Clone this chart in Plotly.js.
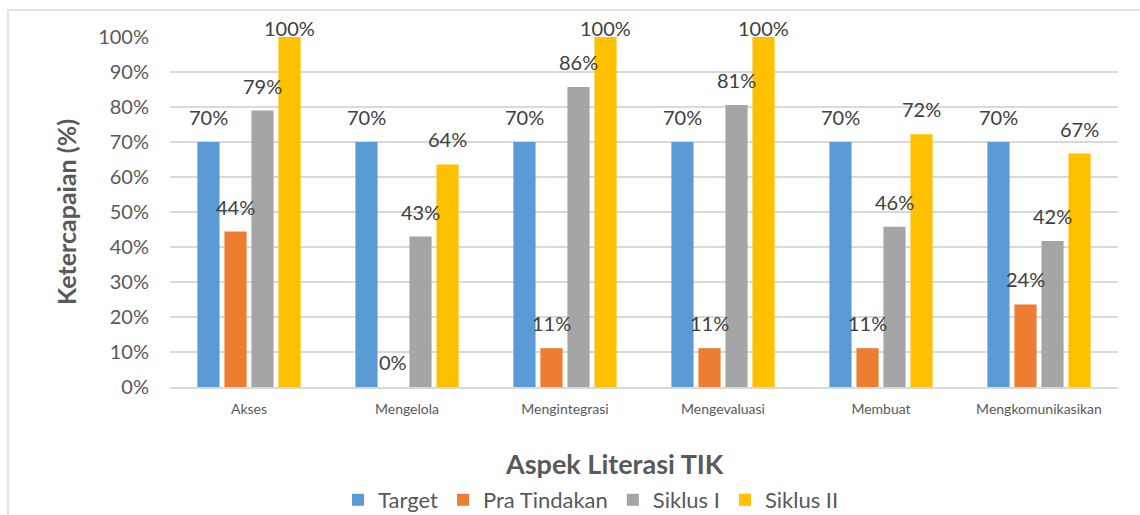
<!DOCTYPE html>
<html>
<head>
<meta charset="utf-8">
<script src="https://cdn.plot.ly/plotly-3.0.1.min.js"></script>
<style>html,body{margin:0;padding:0;background:#fff;}#chart{width:1140px;height:515px;}</style>
</head>
<body>
<div id="chart"></div>
<script>
const categories = ["Akses", "Mengelola", "Mengintegrasi", "Mengevaluasi", "Membuat", "Mengkomunikasikan"];
const seriesNames = ["Target", "Pra Tindakan", "Siklus I", "Siklus II"];
const target = [0.70, 0.70, 0.70, 0.70, 0.70, 0.70];
const praTindakan = [0.444, 0.0, 0.111, 0.111, 0.111, 0.236];
const siklus1 = [0.79, 0.43, 0.857, 0.806, 0.458, 0.417];
const siklus2 = [1.0, 0.636, 1.0, 1.0, 0.722, 0.667];
const yTickVals = [0, 0.1, 0.2, 0.3, 0.4, 0.5, 0.6, 0.7, 0.8, 0.9, 1.0];

const colors = ["#5B9BD5", "#ED7D31", "#A5A5A5", "#FFC000"];
const allSeries = [target, praTindakan, siklus1, siklus2];
const FONT = "Lato, 'Open Sans', sans-serif";

const traces = allSeries.map((vals, i) => ({
  type: "bar",
  name: seriesNames[i],
  x: categories,
  y: vals,
  marker: {color: colors[i]},
  hoverinfo: "none"
}));

// data labels
const plotW = 948, plotH = 350, nCat = categories.length, bargap = 0.316;
const slot = (plotW / nCat) * (1 - bargap) / allSeries.length;
const annotations = [];
allSeries.forEach((vals, i) => {
  vals.forEach((v, j) => {
    annotations.push({
      x: categories[j], y: v, xref: "x", yref: "y",
      text: Math.round(v * 100) + "%",
      showarrow: false,
      xanchor: "center", yanchor: "middle",
      xshift: (i - (allSeries.length - 1) / 2) * slot,
      yshift: v >= 1 ? 9 : 25,
      font: {family: FONT, size: 20, color: "#404040"}
    });
  });
});
annotations.push({
  text: "<b>Aspek Literasi TIK</b>",
  xref: "paper", yref: "paper",
  x: (614 - 170) / plotW, y: (387 - 463) / plotH,
  xanchor: "center", yanchor: "middle", showarrow: false,
  font: {family: FONT, size: 27, color: "#595959"}
});

const layout = {
  width: 1140, height: 515,
  margin: {l: 170, r: 22, t: 37, b: 128, autoexpand: false},
  paper_bgcolor: "#fff", plot_bgcolor: "#fff",
  barmode: "group",
  bargap: bargap,
  bargroupgap: 0.18,
  font: {family: FONT, color: "#595959"},
  showlegend: true,
  legend: {
    orientation: "h",
    x: (591 - 170) / plotW, xanchor: "center",
    y: (387 - 500) / plotH, yanchor: "middle",
    font: {family: FONT, size: 22, color: "#595959"},
    traceorder: "normal"
  },
  xaxis: {
    type: "category",
    showgrid: false,
    showline: true, linecolor: "#D9D9D9", linewidth: 1.5,
    ticks: "", ticklen: 0,
    ticklabelstandoff: 9,
    tickfont: {family: FONT, size: 14, color: "#595959"},
    automargin: false,
    fixedrange: true
  },
  yaxis: {
    range: [0, 1.0],
    tickvals: yTickVals,
    tickformat: ".0%",
    showgrid: true, gridcolor: "#D9D9D9", gridwidth: 1.5,
    zeroline: false,
    showline: false,
    ticks: "",
    ticklabelstandoff: 20,
    tickfont: {family: FONT, size: 20, color: "#595959"},
    title: {text: "<b>Ketercapaian (%)</b>", font: {family: FONT, size: 25, color: "#595959"}, standoff: 14},
    automargin: false,
    fixedrange: true
  },
  annotations: annotations,
  shapes: [{
    type: "rect", xref: "paper", yref: "paper",
    x0: (8 - 170) / plotW, x1: (1150 - 170) / plotW,
    y0: (387 - 560) / plotH, y1: (387 - 10) / plotH,
    line: {color: "#D9D9D9", width: 1.5}, fillcolor: "rgba(0,0,0,0)", layer: "below"
  }]
};

Plotly.newPlot("chart", traces, layout, {displayModeBar: false, staticPlot: true});
</script>
</body>
</html>
